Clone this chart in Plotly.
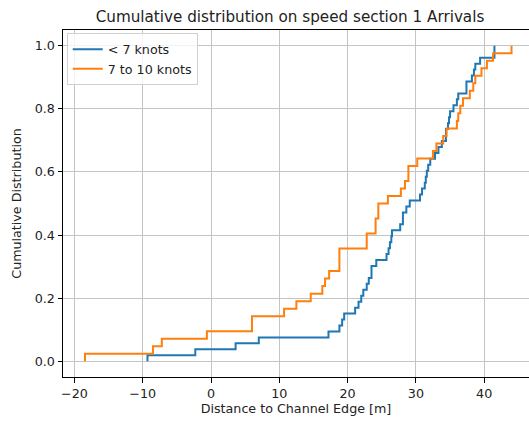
import numpy as np
import plotly.graph_objects as go

# Sample values (distance to channel edge, m)
below7_knots = [-9.3, -2.3, 3.6, 7.0, 17.2, 18.8, 19.2, 19.5, 21.1, 21.6,
                22.0, 22.3, 22.8, 23.1, 23.5, 23.5, 24.2, 25.7, 26.0, 26.2,
                26.4, 26.5, 27.7, 28.1, 28.1, 28.6, 29.1, 30.6, 30.9, 31.3,
                31.45, 31.6, 31.8, 32.1, 32.8, 33.3, 33.8, 34.4, 34.4, 34.7,
                34.85, 35.0, 35.5, 36.0, 36.2, 37.4, 37.4, 38.2, 38.5, 38.7,
                39.4, 41.5, 41.5]
knots7_10 = [-18.45, -8.5, -7.2, -0.6, 6.0, 6.0, 10.7, 12.5, 14.6, 16.3,
             16.7, 17.3, 18.8, 18.8, 18.8, 22.8, 22.8, 24.1, 24.1, 24.5,
             24.5, 25.9, 27.8, 28.4, 28.9, 28.9, 30.2, 32.5, 33.0, 34.0,
             34.5, 36.0, 36.2, 36.5, 36.9, 37.9, 38.4, 38.7, 39.6, 40.4,
             41.3, 44.0]

series_names = ["< 7 knots", "7 to 10 knots"]
series_colors = ["#1f77b4", "#ff7f0e"]
x_ticks = [-20, -10, 0, 10, 20, 30, 40]
y_ticks = [0.0, 0.2, 0.4, 0.6, 0.8, 1.0]

def ecdf(values):
    v = np.sort(np.asarray(values, dtype=float))
    n = len(v)
    cum = np.arange(1, n + 1) / n
    x = np.concatenate([[v[0]], v])
    y = np.concatenate([[0.0], cum])
    return x, y

FONT = "DejaVu Sans"
FS = 12.7
fig = go.Figure()
for vals, name, color in zip([below7_knots, knots7_10], series_names, series_colors):
    x, y = ecdf(vals)
    fig.add_trace(go.Scatter(x=x, y=y, mode="lines", name=name,
                             line=dict(color=color, width=2, shape="hv")))

axis_common = dict(showgrid=True, gridcolor="#c4c4c4", gridwidth=1,
                   showline=True, linecolor="black", linewidth=1, mirror=True,
                   ticks="outside", ticklen=4.5, tickcolor="black", tickwidth=1,
                   zeroline=False, tickfont=dict(family=FONT, size=FS, color="#222"))

fig.update_layout(
    width=529, height=421,
    margin=dict(l=63, r=0, t=30, b=44),
    plot_bgcolor="white", paper_bgcolor="white",
    font=dict(family=FONT, color="#222"),
    title=dict(text="Cumulative distribution on speed section 1 Arrivals",
               x=290 / 529, xanchor="center", xref="container",
               y=1 - 17 / 421, yanchor="middle", yref="container",
               font=dict(family=FONT, size=15.2, color="#222")),
    xaxis=dict(range=[-21.67, 46.56], tickvals=x_ticks,
               title=dict(text="Distance to Channel Edge [m]", standoff=4,
                          font=dict(family=FONT, size=FS, color="#222")),
               **axis_common),
    yaxis=dict(range=[-0.05, 1.05], tickvals=y_ticks, tickformat=".1f",
               title=dict(text="Cumulative Distribution", standoff=10,
                          font=dict(family=FONT, size=FS, color="#222")),
               **axis_common),
    legend=dict(x=0.008, y=0.99, xanchor="left", yanchor="top",
                bgcolor="rgba(255,255,255,0.8)", bordercolor="#d0d0d0", borderwidth=1,
                font=dict(family=FONT, size=FS, color="#222"),
                itemwidth=30),
    showlegend=True,
)

fig.write_html("out.html", config={"displayModeBar": False},
               post_script="document.body.style.margin='0';")
